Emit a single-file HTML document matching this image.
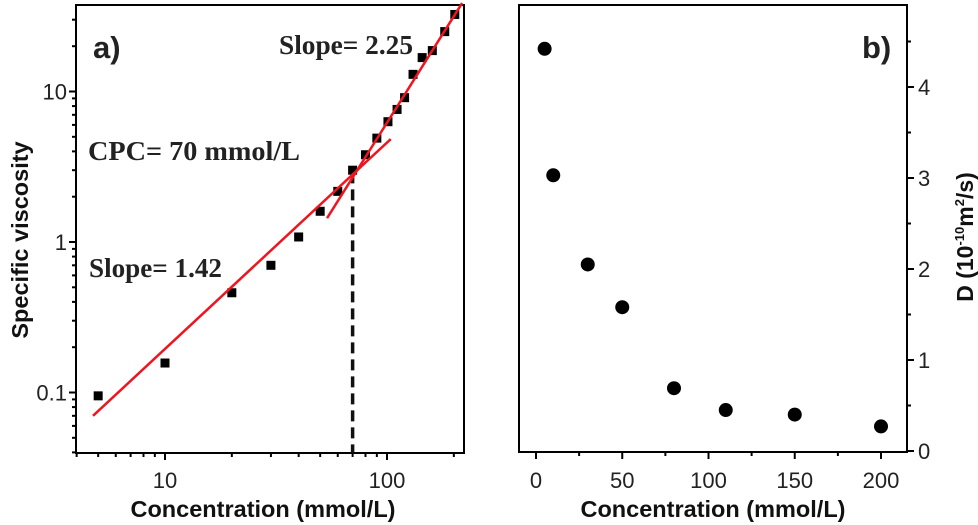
<!DOCTYPE html>
<html><head><meta charset="utf-8"><style>
body{margin:0;background:#fff}
svg{display:block;font-family:"Liberation Sans",Arial,sans-serif}
.ser{font-family:"Liberation Serif","Times New Roman",serif;font-weight:bold}
</style></head><body>
<svg id="chart" width="978" height="525" viewBox="0 0 978 525" xmlns="http://www.w3.org/2000/svg">
<g id="pa"></g>
<g id="pb"></g>
</svg>
<script>
// Panel a data
const aConc = [5,10,20,30,40,50,60,70,80,90,101,111,120,131,144,160,182,202];
const aVisc = [0.095,0.157,0.46,0.70,1.08,1.6,2.17,3.0,3.8,4.9,6.3,7.6,9.1,13,16.8,18.7,25,32.5];
const fit1X = [4.74,104];
const fit1Y = [0.07,4.83];
const fit2X = [53.7,218];
const fit2Y = [1.44,38.7];
const cpcX = [70];
const aXTicks = [10,100];
const aYTicks = [0.1,1,10];
const aYTickLabels = ["0.1","1","10"];
// Panel b data
const bConc = [5,10,30,50,80,110,150,200];
const bD = [4.42,3.03,2.05,1.58,0.69,0.45,0.40,0.27];
const bXTicks = [0,50,100,150,200];
const bYTicks = [0,1,2,3,4];

const NS="http://www.w3.org/2000/svg";
function mk(parent,tag,attrs,text){const e=document.createElementNS(NS,tag);for(const k in attrs)e.setAttribute(k,attrs[k]);if(text!==undefined)e.textContent=text;parent.appendChild(e);return e;}

const ax={L:76,R:464,T:5,B:453};
const axX=c=>165+222*Math.log10(c/10);
const axY=v=>242-150.5*Math.log10(v);
const bx={L:519,R:907,T:5,B:452};
const bxX=c=>536+1.725*c;
const bxY=v=>451-91*v;

const pa=document.getElementById('pa');
let e;
e=mk(pa,'rect',{x:ax.L,y:ax.T,width:ax.R-ax.L,height:ax.B-ax.T,fill:'none',stroke:'#000','stroke-width':2});


for(let d=1;d<=1000;d*=10)for(let m=1;m<10;m++){const c=d*m;const x=axX(c);if(x<ax.L||x>ax.R)continue;
 const major=m===1;e=mk(pa,'line',{x1:x,x2:x,y1:ax.B,y2:ax.B+(major?7:4),stroke:'#000','stroke-width':2});
 
 }
aXTicks.forEach(t=>{e=mk(pa,'text',{x:axX(t),y:488,'text-anchor':'middle','font-size':22,fill:'#222'},String(t));
 
 });
for(let d=0.01;d<=100;d*=10)for(let m=1;m<10;m++){const v=d*m;const y=axY(v);if(y<ax.T||y>ax.B)continue;
 const major=m===1;e=mk(pa,'line',{x1:ax.L-(major?7:4),x2:ax.L,y1:y,y2:y,stroke:'#000','stroke-width':2});
 
 }
aYTicks.forEach((t,i)=>{e=mk(pa,'text',{x:ax.L-9,y:axY(t)+8,'text-anchor':'end','font-size':22,fill:'#222'},aYTickLabels[i]);
 
 });
e=mk(pa,'text',{x:263,y:517,'text-anchor':'middle','font-size':23.5,'font-weight':'bold',fill:'#111'},'Concentration (mmol/L)');


e=mk(pa,'text',{x:0,y:0,transform:'translate(28,240) rotate(-90)','text-anchor':'middle','font-size':23.5,'font-weight':'bold',fill:'#111'},'Specific viscosity');


e=mk(pa,'line',{x1:axX(cpcX[0]),x2:axX(cpcX[0]),y1:axY(2.9),y2:ax.B,stroke:'#111','stroke-width':3.5,'stroke-dasharray':'11,6'});


aConc.forEach((c,i)=>{e=mk(pa,'rect',{x:axX(c)-4.5,y:axY(aVisc[i])-4.5,width:9,height:9,fill:'#000'});
 
 });
e=mk(pa,'line',{x1:axX(fit1X[0]),y1:axY(fit1Y[0]),x2:axX(fit1X[1]),y2:axY(fit1Y[1]),stroke:'#f0141e','stroke-width':2.5});


e=mk(pa,'line',{x1:axX(fit2X[0]),y1:axY(fit2Y[0]),x2:axX(fit2X[1]),y2:axY(fit2Y[1]),stroke:'#f0141e','stroke-width':2.5});


e=mk(pa,'text',{x:93,y:58,'font-size':31,'font-weight':'bold',fill:'#222'},'a)');


e=mk(pa,'text',{x:279,y:54,'font-size':27,class:'ser',fill:'#222',textLength:134,lengthAdjust:'spacingAndGlyphs'},'Slope= 2.25');


e=mk(pa,'text',{x:88,y:160,'font-size':27,class:'ser',fill:'#222',textLength:212,lengthAdjust:'spacingAndGlyphs'},'CPC= 70 mmol/L');


e=mk(pa,'text',{x:89,y:277,'font-size':27,class:'ser',fill:'#222',textLength:133,lengthAdjust:'spacingAndGlyphs'},'Slope= 1.42');



const pb=document.getElementById('pb');
e=mk(pb,'rect',{x:bx.L,y:bx.T,width:bx.R-bx.L,height:bx.B-bx.T,fill:'none',stroke:'#000','stroke-width':2});


for(let t=0;t<=200;t+=25){const x=bxX(t);e=mk(pb,'line',{x1:x,x2:x,y1:bx.B,y2:bx.B+(t%50===0?7:4),stroke:'#000','stroke-width':2});
 
 }
bXTicks.forEach(t=>{e=mk(pb,'text',{x:bxX(t),y:488,'text-anchor':'middle','font-size':22,fill:'#222'},String(t));
 
 });
for(let t=0;t<=4.5;t+=0.5){const y=bxY(t);e=mk(pb,'line',{x1:bx.R,x2:bx.R+(t%1===0?7:4),y1:y,y2:y,stroke:'#000','stroke-width':2});
 
 }
bYTicks.forEach(t=>{e=mk(pb,'text',{x:bx.R+11,y:bxY(t)+8,'font-size':22,fill:'#222'},String(t));
 
 });
e=mk(pb,'text',{x:713,y:517,'text-anchor':'middle','font-size':23.5,'font-weight':'bold',fill:'#111'},'Concentration (mmol/L)');


const yt=mk(pb,'text',{x:0,y:0,transform:'translate(973,237) rotate(-90)','text-anchor':'middle','font-size':23,'font-weight':'bold',fill:'#111'});
yt.innerHTML='D (10<tspan dy="-9" font-size="13">-10</tspan><tspan dy="9">m</tspan><tspan dy="-9" font-size="13">2</tspan><tspan dy="9">/s)</tspan>';


bConc.forEach((c,i)=>{e=mk(pb,'circle',{cx:bxX(c),cy:bxY(bD[i]),r:7,fill:'#000'});
 
 });
e=mk(pb,'text',{x:862,y:58,'font-size':31,'font-weight':'bold',fill:'#222'},'b)');


</script>
</body></html>
